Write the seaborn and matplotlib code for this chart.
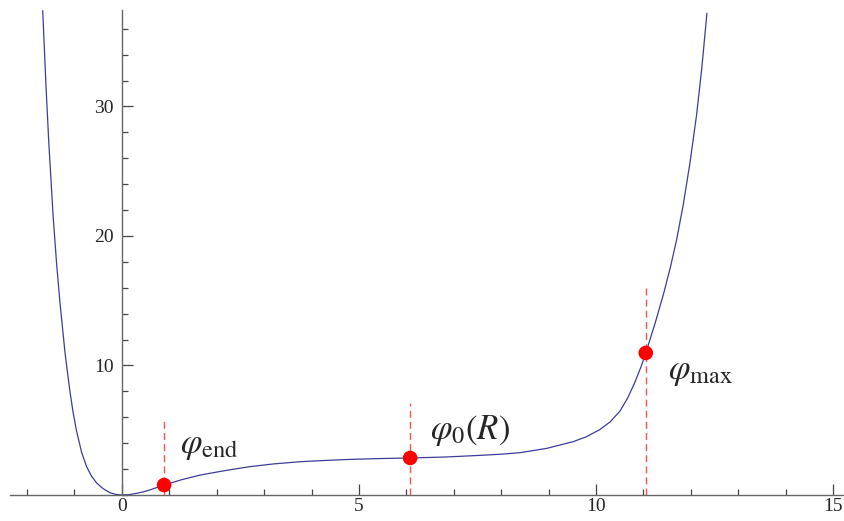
import numpy as np
import pandas as pd
import matplotlib
matplotlib.use("Agg")
import matplotlib.pyplot as plt
from matplotlib.ticker import MultipleLocator, FixedLocator
import seaborn as sns

# Curve values
curve_x = [-1.67, -1.60, -1.54, -1.45, -1.38, -1.31, -1.20, -1.10, -1.03, -0.96,
           -0.85, -0.745, -0.64, -0.53, -0.40, -0.25, -0.12, 0.0, 0.15, 0.30,
           0.45, 0.59, 0.89, 1.25, 1.65, 2.20, 2.70, 3.20, 3.76, 4.30,
           4.81, 5.40, 6.08, 6.80, 7.50, 8.00, 8.40, 8.96, 9.52, 9.80,
           10.08, 10.30, 10.51, 10.67, 10.82, 10.95, 11.05, 11.25, 11.43, 11.57,
           11.70, 11.84, 11.98, 12.12, 12.23, 12.34]
curve_y = [37.4, 31.5, 27.1, 21.5, 18.0, 15.0, 11.0, 8.1, 6.4, 5.0,
           3.3, 2.19, 1.45, 0.92, 0.50, 0.17, 0.04, 0.0, 0.03, 0.12,
           0.24, 0.39, 0.77, 1.17, 1.54, 1.90, 2.19, 2.40, 2.57, 2.67,
           2.75, 2.81, 2.86, 2.93, 3.05, 3.15, 3.27, 3.60, 4.12, 4.50,
           5.05, 5.65, 6.50, 7.50, 8.70, 9.90, 10.97, 13.3, 15.6, 17.6,
           19.7, 22.4, 25.6, 29.3, 32.9, 37.2]

# Marked points
point_names = [r"$\varphi_{\mathrm{end}}$", r"$\varphi_0(R)$", r"$\varphi_{\mathrm{max}}$"]
point_x = [0.89, 6.08, 11.05]
point_y = [0.77, 2.86, 10.97]
dash_top = [5.8, 7.1, 16.0]
label_x = [1.22, 6.50, 11.52]
label_y = [3.86, 5.0, 9.5]

x_major = [0, 5, 10, 15]
y_major = [10, 20, 30]

sns.set_style("white")
plt.rcParams["font.family"] = ["Liberation Serif", "DejaVu Serif"]
plt.rcParams["mathtext.fontset"] = "stix"

fig = plt.figure(figsize=(8.44, 5.21), dpi=100)
ax = fig.add_axes([10/844, 26/521, 833/844, 485/521])

df = pd.DataFrame({"x": curve_x, "y": curve_y})
sns.lineplot(data=df, x="x", y="y", ax=ax, color="#3d3d99", linewidth=0.9,
             sort=False, estimator=None)

for px, top in zip(point_x, dash_top):
    ax.plot([px, px], [0, top], color="#ff3333", linewidth=1.0,
            dashes=(5, 3), alpha=0.85, zorder=2)

pts = pd.DataFrame({"x": point_x, "y": point_y})
sns.scatterplot(data=pts, x="x", y="y", ax=ax, color="#ff0000", s=110,
                edgecolor="none", zorder=5)

for name, lx, ly in zip(point_names, label_x, label_y):
    ax.text(lx, ly, name, fontsize=25, ha="left", va="center")

ax.set_xlim(-2.36, 15.21)
ax.set_ylim(0, 37.45)
ax.set_xlabel("")
ax.set_ylabel("")

for s in ["top", "right"]:
    ax.spines[s].set_visible(False)
ax.spines["left"].set_position(("data", 0))
ax.spines["bottom"].set_position(("data", 0))
for s in ["left", "bottom"]:
    ax.spines[s].set_color("#666666")
    ax.spines[s].set_linewidth(1.0)

ax.xaxis.set_major_locator(FixedLocator(x_major))
ax.xaxis.set_minor_locator(MultipleLocator(1))
ax.yaxis.set_major_locator(FixedLocator(y_major))
ax.yaxis.set_minor_locator(MultipleLocator(2))
ax.set_xticklabels([str(v) for v in x_major])
ax.set_yticklabels([str(v) for v in y_major])
ax.tick_params(which="both", direction="in", color="#444444", width=0.9,
               labelsize=14, bottom=True, left=True)
ax.tick_params(axis="x", which="major", length=8, pad=2)
ax.tick_params(axis="y", which="major", length=8, pad=6)
ax.tick_params(which="minor", length=4.5)
ax.grid(False)
for lbl in ax.get_xticklabels() + ax.get_yticklabels():
    lbl.set_clip_on(False)

fig.savefig("out.png", dpi=100)
